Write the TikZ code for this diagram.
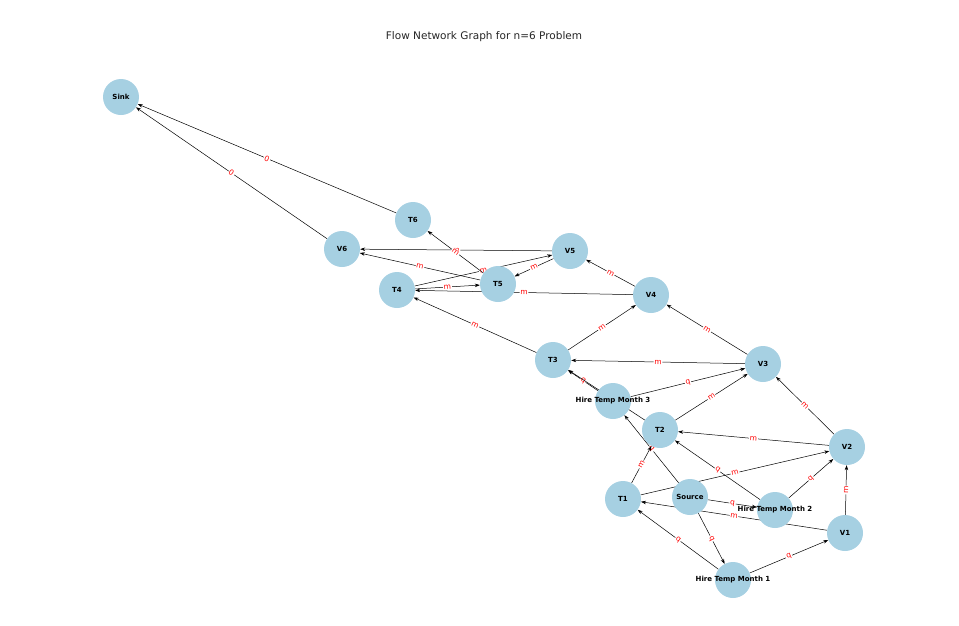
\documentclass[tikz,border=0pt]{standalone}
\usepackage{fontspec}
\setmainfont{DejaVu Sans}
\usetikzlibrary{arrows.meta,backgrounds}
\definecolor{nodeblue}{HTML}{A6D0E2}
\begin{document}
\begin{tikzpicture}[x=1pt,y=-1pt,
  v/.style={circle,fill=nodeblue,minimum size=36pt,inner sep=0pt},
  nl/.style={font=\fontsize{7}{8}\selectfont\bfseries},
  e/.style={-{Stealth[length=5pt,width=3.5pt]},black,line width=0.5pt},
  el/.style={midway,sloped,fill=white,inner sep=0.8pt,text=red,font=\fontsize{7.5}{8}\selectfont}]
\useasboundingbox (0,0) rectangle (959,625);
\node[font=\fontsize{10.5}{12}\selectfont,text=black!85] (title) at (484,37) {Flow Network Graph for n=6 Problem};
\foreach \n/\x/\y/\t in {Sink/121/97/Sink, T6/413/220/T6, V6/342/249/V6, V5/570/251/V5, T4/397/290/T4, T5/498/284/T5, V4/651/295/V4, T3/553/360/T3, V3/763/364/V3, H3/613/401/Hire Temp Month 3, T2/660/430/T2, V2/847/447/V2, T1/623/499/T1, S/690/497/Source, H2/775/510/Hire Temp Month 2, V1/845/533/V1, H1/733/580/Hire Temp Month 1}
  \node[v,label={[nl]center:\t}] (\n) at (\x,\y) {};
\begin{scope}[on background layer]
\foreach \a/\b/\l in {S/H1/q, S/H2/q, S/H3/q, H1/T1/q, H1/V1/q, H2/T2/q, H2/V2/q, H3/T3/q, H3/V3/q,
  V1/T1/m, T1/V2/m, V2/T2/m, T2/V3/m, V3/T3/m, T3/V4/m, V4/T4/m, T4/V5/m, V5/T5/m, T5/V6/m,
  V1/V2/m, V2/V3/m, V3/V4/m, V4/V5/m, V5/V6/m,
  T1/T2/m, T2/T3/m, T3/T4/m, T4/T5/m, T5/T6/m, V6/Sink/0, T6/Sink/0}
  \draw[e] (\a) -- (\b) node[el] {\l};
\end{scope}
\end{tikzpicture}
\end{document}
